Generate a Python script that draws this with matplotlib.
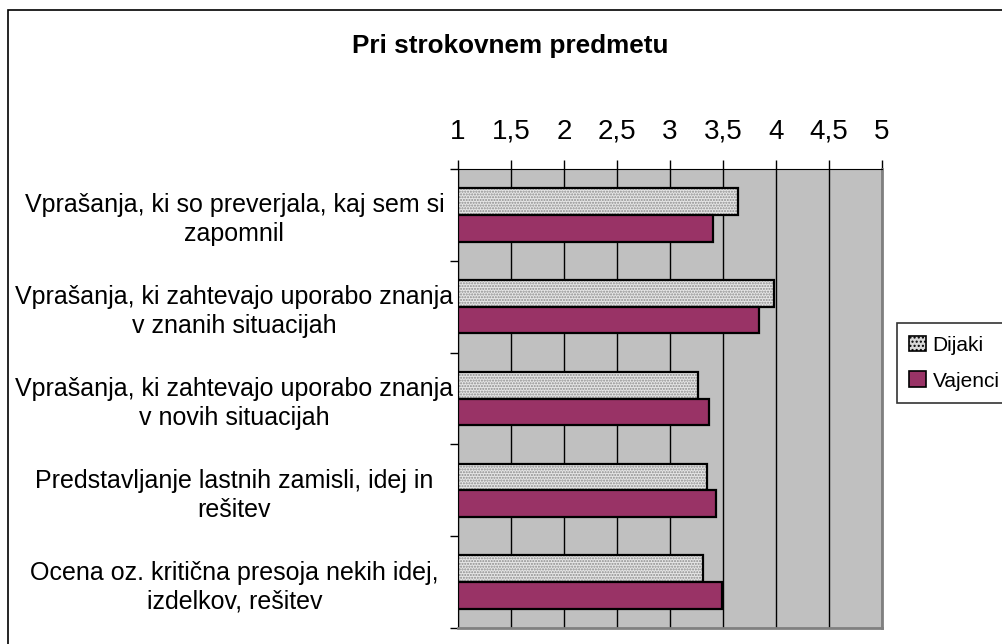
import numpy as np
import matplotlib
matplotlib.use("Agg")
import matplotlib.pyplot as plt
from matplotlib.patches import Rectangle, Patch

plt.rcParams['font.family'] = ['Liberation Sans', 'DejaVu Sans']

# data
categories = [
    "Vprašanja, ki so preverjala, kaj sem si\nzapomnil",
    "Vprašanja, ki zahtevajo uporabo znanja\nv znanih situacijah",
    "Vprašanja, ki zahtevajo uporabo znanja\nv novih situacijah",
    "Predstavljanje lastnih zamisli, idej in\nrešitev",
    "Ocena oz. kritična presoja nekih idej,\nizdelkov, rešitev",
]
dijaki = [3.64, 3.98, 3.26, 3.35, 3.31]
vajenci = [3.41, 3.84, 3.37, 3.43, 3.49]
xticks = [1, 1.5, 2, 2.5, 3, 3.5, 4, 4.5, 5]
xticklabels = ["1", "1,5", "2", "2,5", "3", "3,5", "4", "4,5", "5"]

fig = plt.figure(figsize=(10.03, 6.44), dpi=100)
# outer chart border
fig.patches.append(Rectangle((0.008, -0.02), 1.2, 0.9845 + 0.02, transform=fig.transFigure,
                             fill=False, edgecolor='black', linewidth=1.2))

ax = fig.add_axes([458 / 1003, 1 - 628 / 644, (882 - 458) / 1003, (628 - 169) / 644])
ax.set_facecolor('#C0C0C0')

y = np.arange(len(categories))
h = 0.29
base = 1
# Dijaki: stippled grey pattern
ax.barh(y - h / 2, np.array(dijaki) - base, left=base, height=h, color='#E6E6E6',
        hatch='......', edgecolor='#8c8c8c', linewidth=0, zorder=3)
ax.barh(y - h / 2, np.array(dijaki) - base, left=base, height=h, fill=False,
        edgecolor='black', linewidth=1.6, zorder=4)
ax.barh(y + h / 2, np.array(vajenci) - base, left=base, height=h, color='#993366',
        edgecolor='black', linewidth=1.6, zorder=4)

ax.set_xlim(1, 5)
ax.set_ylim(len(categories) - 0.5, -0.5)
ax.set_xticks(xticks)
ax.set_xticklabels(xticklabels, fontsize=20)
ax.xaxis.tick_top()
ax.tick_params(axis='x', which='major', direction='out', length=6.5, width=1, pad=11)
ax.grid(axis='x', color='black', linewidth=1, zorder=1)
ax.set_axisbelow(True)

ax.set_yticks(y)
ax.set_yticklabels(categories, fontsize=18, ha='center', multialignment='center',
                   linespacing=1.25)
ax.tick_params(axis='y', which='major', length=0, pad=161)
ax.set_yticks(np.arange(-0.5, len(categories)), minor=True)
ax.tick_params(axis='y', which='minor', direction='out', length=6, width=1)

ax.spines['top'].set_color('black')
ax.spines['left'].set_color('black')
ax.spines['right'].set_color('#808080')
ax.spines['bottom'].set_color('#808080')
ax.spines['right'].set_linewidth(2)
ax.spines['bottom'].set_linewidth(2)

fig.text(510 / 1003, 1 - 46 / 644, "Pri strokovnem predmetu", fontsize=18.8,
         fontweight='bold', ha='center', va='center')

handles = [Patch(facecolor='#D8D8D8', hatch='....', edgecolor='black', linewidth=1.2),
           Patch(facecolor='#993366', edgecolor='black', linewidth=1.2)]
leg = fig.legend(handles, ["Dijaki", "Vajenci"], loc='upper left',
                 bbox_to_anchor=(897 / 1003, 1 - 323 / 644),
                 fontsize=15, frameon=True, fancybox=False, handlelength=0.8,
                 handleheight=0.8, handletextpad=0.3, labelspacing=0.8, borderpad=0.6,
                 borderaxespad=0)
leg.get_frame().set_edgecolor('black')
leg.get_frame().set_linewidth(1.2)

fig.savefig("out.png", dpi=100)
